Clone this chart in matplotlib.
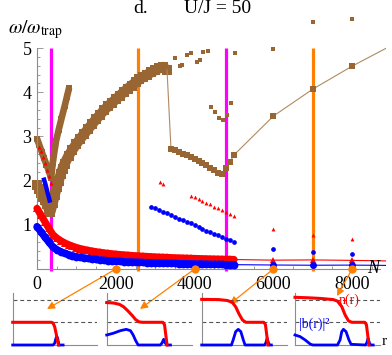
import numpy as np
import matplotlib
matplotlib.use("Agg")
import matplotlib.pyplot as plt
from matplotlib.ticker import FixedLocator

plt.rcParams['font.family'] = ['Liberation Serif', 'DejaVu Serif']
plt.rcParams['mathtext.fontset'] = 'stix'

RED = '#ff0000'
BLUE = '#0000ff'
BROWN = '#996633'
ORANGE = '#ff8000'
MAGENTA = '#ff00ff'
GRAY = '#8c8c8c'

# ---- main panel data (N, omega/omega_trap) ----
N_dense = list(range(0, 5001, 100))
blue_low = [0.96, 0.84, 0.72, 0.61, 0.50, 0.44, 0.395, 0.355, 0.325, 0.30,
            0.28, 0.265, 0.25, 0.238, 0.226, 0.215, 0.205, 0.197, 0.19, 0.183,
            0.177, 0.172, 0.167, 0.162, 0.158, 0.154, 0.15, 0.147, 0.144, 0.141,
            0.138, 0.135, 0.132, 0.13, 0.128, 0.125, 0.123, 0.121, 0.119, 0.117,
            0.115, 0.113, 0.111, 0.109, 0.107, 0.105, 0.104, 0.102, 0.10, 0.099,
            0.098]
red_low = [1.37, 1.22, 1.07, 0.92, 0.78, 0.70, 0.64, 0.59, 0.55, 0.515,
           0.485, 0.46, 0.44, 0.42, 0.405, 0.39, 0.376, 0.364, 0.353, 0.343,
           0.334, 0.326, 0.318, 0.311, 0.304, 0.298, 0.292, 0.287, 0.282, 0.277,
           0.272, 0.268, 0.264, 0.26, 0.256, 0.252, 0.249, 0.246, 0.243, 0.24,
           0.237, 0.234, 0.231, 0.229, 0.226, 0.224, 0.222, 0.22, 0.218, 0.216,
           0.214]

# sparse large-N points
N_far = [6000, 7000, 8000]
N_tail = [5000, 6000, 7000, 8000, 9000]
red_tail = [0.214, 0.20, 0.205, 0.195, 0.18]
blue_tail = [0.098, 0.09, 0.085, 0.088, 0.08]
red_far_hi = [0.90, 0.77, 0.68]
blue_far_hi = [0.46, 0.39, 0.34]

# secondary branches
blue2a_N = [180, 210, 240, 270, 300, 320]
blue2a = [2.02, 1.93, 1.83, 1.72, 1.62, 1.55]
red2a_N = [60, 100, 150, 200, 250, 300, 360]
red2a = [2.77, 2.67, 2.53, 2.40, 2.25, 2.11, 1.94]
blue2b_N = list(range(2900, 5001, 100))
blue2b = [1.41, 1.38, 1.34, 1.30, 1.26, 1.22, 1.18, 1.14, 1.10, 1.06, 1.03,
          0.99, 0.95, 0.91, 0.87, 0.83, 0.80, 0.76, 0.72, 0.68, 0.65, 0.62]
red2b_N = [3120, 3200, 3900, 4000, 4100, 4200, 4300, 4400, 4500, 4600, 4700, 4800, 4900, 5000]
red2b = [1.97, 1.92, 1.66, 1.62, 1.58, 1.54, 1.50, 1.46, 1.41, 1.37, 1.33, 1.28, 1.24, 1.20]

# brown branches
brA_N = [0, 60, 120, 180, 240, 300, 357, 400, 440, 484, 550, 620, 700, 760, 815]
brA = [2.95, 2.80, 2.65, 2.50, 2.36, 2.22, 2.06, 2.40, 2.65, 2.90, 3.15, 3.40, 3.68, 3.90, 4.10]
brB_N = [0, 50, 100, 150, 200, 250, 300, 340, 400, 450, 500, 550, 600, 650, 700,
         800, 900, 1000, 1100, 1200, 1300, 1400, 1500, 1600, 1700, 1800, 1900,
         2000, 2100, 2200, 2300, 2400, 2500, 2600, 2700, 2800, 2900, 3000, 3100,
         3200, 3300]
brB = [1.90, 1.82, 1.73, 1.64, 1.55, 1.46, 1.36, 1.30, 1.50, 1.68, 1.85, 2.00,
       2.14, 2.27, 2.38, 2.56, 2.70, 2.83, 2.95, 3.06, 3.17, 3.28, 3.39, 3.49,
       3.59, 3.68, 3.76, 3.84, 3.92, 4.00, 4.08, 4.15, 4.22, 4.29, 4.35, 4.40,
       4.45, 4.50, 4.54, 4.57, 4.50]
brD_N = [3400, 3500, 3600, 3700, 3800, 3900, 4000, 4100, 4200, 4300, 4400,
         4500, 4600, 4700, 4800, 4900, 5000]
brD = [2.72, 2.69, 2.65, 2.61, 2.57, 2.53, 2.49, 2.45, 2.40, 2.35, 2.29,
       2.23, 2.18, 2.14, 2.28, 2.43, 2.58]
brE_N = [6000, 7000, 8000, 9000]
brE = [3.46, 4.07, 4.59, 5.06]
brS_N = [3500, 3620, 3670, 3800, 3920, 4050, 4130, 4220, 4330, 5030, 6000, 7000, 8000,
         4415, 4520, 4620, 4730, 4830, 4925]
brS = [4.77, 4.60, 4.62, 4.84, 4.88, 4.69, 4.73, 4.92, 4.94, 4.88, 4.97, 5.59, 5.65,
       3.67, 3.55, 3.42, 3.36, 3.48, 3.76]

magenta_N = [360, 4790]
orange_N = [2570, 7000]
snap_N = [2000, 4000, 6000, 8000]

# ---- inset density profiles (r scaled 0..1) ----
n_r = [[0, 0.46, 0.48, 0.50, 0.52, 0.535, 0.545],
       [0, 0.08, 0.15, 0.20, 0.25, 0.30, 0.34, 0.38, 0.42, 0.66, 0.68, 0.695, 0.71],
       [0, 0.20, 0.30, 0.36, 0.40, 0.44, 0.48, 0.52, 0.73, 0.75, 0.765, 0.78],
       [0, 0.15, 0.30, 0.45, 0.50, 0.55, 0.59, 0.63, 0.67, 0.82, 0.84, 0.855, 0.87]]
n_val = [[1, 1, 0.97, 0.8, 0.45, 0.15, 0],
         [1.87, 1.85, 1.79, 1.68, 1.5, 1.3, 1.12, 1.02, 1.0, 1.0, 0.9, 0.45, 0],
         [2.01, 2.0, 1.96, 1.88, 1.68, 1.36, 1.1, 1.0, 1.0, 0.9, 0.45, 0],
         [2.1, 2.08, 2.05, 2.0, 1.93, 1.69, 1.32, 1.06, 1.0, 1.0, 0.9, 0.45, 0]]
b_r = [[0, 0.48, 0.50, 0.515, 0.525, 0.535, 0.55, 0.60],
       [0, 0.08, 0.16, 0.23, 0.28, 0.31, 0.34, 0.37, 0.63, 0.65, 0.67, 0.69, 0.71, 0.75],
       [0, 0.35, 0.37, 0.40, 0.43, 0.46, 0.49, 0.51, 0.74, 0.755, 0.77, 0.785, 0.80, 0.82],
       [0, 0.06, 0.12, 0.18, 0.21, 0.50, 0.53, 0.55, 0.57, 0.60, 0.635, 0.66,
        0.83, 0.845, 0.86, 0.875, 0.89, 0.92]]
b_val = [[0, 0, 0.08, 0.3, 0.37, 0.3, 0, 0],
         [0.44, 0.52, 0.63, 0.69, 0.63, 0.45, 0.2, 0, 0, 0.08, 0.25, 0.08, 0, 0],
         [0, 0, 0.22, 0.59, 0.69, 0.59, 0.22, 0, 0, 0.1, 0.29, 0.1, 0, 0],
         [0.44, 0.37, 0.22, 0.04, 0, 0, 0.22, 0.59, 0.69, 0.59, 0.22, 0.03,
          0, 0.1, 0.29, 0.1, 0, 0]]

W, H = 392, 355
fig = plt.figure(figsize=(W / 100, H / 100), dpi=100)


def box(x0, y0, x1, y1):
    # pixel box (top-left origin) -> figure rect
    return [x0 / W, 1 - y1 / H, (x1 - x0) / W, (y1 - y0) / H]


ax = fig.add_axes(box(30, 10, 386, 275))
ax.set_xlim(-178, 8858)
ax.set_ylim(-0.136, 5.86)
ax.patch.set_alpha(0)

for s in ['top', 'right']:
    ax.spines[s].set_visible(False)
ax.spines['left'].set_position(('data', 0))
ax.spines['bottom'].set_position(('data', 0))
ax.spines['left'].set_bounds(0, 5)
ax.spines['bottom'].set_bounds(0, 8700)
for s in ['left', 'bottom']:
    ax.spines[s].set_color(GRAY)
    ax.spines[s].set_linewidth(0.8)

ax.set_xticks([0, 2000, 4000, 6000, 8000])
ax.set_xticklabels(['0', '2000', '4000', '6000', '8000'])
ax.set_yticks([1, 2, 3, 4, 5])
ax.set_yticklabels(['1', '2', '3', '4', '5'])
ax.xaxis.set_minor_locator(FixedLocator(np.arange(500, 8600, 500)))
ax.yaxis.set_minor_locator(FixedLocator(np.arange(0.2, 5.0, 0.2)))
ax.tick_params(which='both', direction='in', color=GRAY, width=0.6, labelsize=13)
ax.tick_params(which='major', length=4.5)
ax.tick_params(which='minor', length=2.5)
ax.tick_params(axis='y', pad=4)
ax.tick_params(axis='x', pad=5)

# vertical marker lines
ax.vlines(magenta_N, -0.05, 5.0, color=MAGENTA, lw=2.3, zorder=1)
ax.vlines(orange_N, -0.05, 5.0, color=ORANGE, lw=2.3, zorder=1)

# brown branches
ax.plot(brB_N, brB, color=BROWN, lw=7.5, solid_capstyle='butt', zorder=2)
ax.plot(brB_N, brB, 's', color=BROWN, ms=7.5, mew=0, zorder=2)
ax.plot(brA_N, brA, color=BROWN, lw=4.8, solid_capstyle='butt', zorder=2)
ax.plot(brA_N, brA, 's', color=BROWN, ms=4.8, mew=0, zorder=2)
conn_N = [brB_N[-1]] + brD_N + brE_N
conn = [brB[-1]] + brD + brE
ax.plot(conn_N, conn, color='#b08a60', lw=0.8, zorder=2)
ax.plot(brD_N, brD, 's', color=BROWN, ms=4.2, mew=0, zorder=3)
ax.plot(brE_N, brE, 's', color=BROWN, ms=5, mew=0, zorder=3)
ax.plot(brS_N, brS, 's', color=BROWN, ms=3.3, mew=0, zorder=3)

# lowest modes
ax.plot(N_tail, red_tail, color=RED, lw=0.8, zorder=3)
ax.plot(N_tail, blue_tail, color=BLUE, lw=0.8, zorder=3)
ax.plot(N_dense, red_low, color=RED, lw=5.2, solid_capstyle='round', zorder=3)
ax.plot(N_dense, red_low, '^', color=RED, ms=6, mew=0, zorder=3)
ax.plot(N_dense, blue_low, color=BLUE, lw=5.2, solid_capstyle='round', zorder=4)
ax.plot(N_dense, blue_low, 'o', color=BLUE, ms=5.6, mew=0, zorder=4)
ax.plot(N_far, red_tail[1:4], '^', color=RED, ms=5, mew=0, zorder=4)
ax.plot(N_far, blue_tail[1:4], 'o', color=BLUE, ms=5, mew=0, zorder=4)

# higher modes
ax.plot(blue2a_N, blue2a, color=BLUE, lw=3.2, zorder=3)
ax.plot(red2a_N, red2a, '^', color=RED, ms=3, mew=0, zorder=3)
ax.plot(blue2b_N, blue2b, 'o', color=BLUE, ms=3.4, mew=0, zorder=3)
ax.plot(red2b_N, red2b, '^', color=RED, ms=2.8, mew=0, zorder=3)
ax.plot(N_far, red_far_hi, '^', color=RED, ms=2.8, mew=0, zorder=3)
ax.plot(N_far, blue_far_hi, 'o', color=BLUE, ms=3.4, mew=0, zorder=3)

# snapshot dots
ax.plot(snap_N, [0] * len(snap_N), 'o', color=ORANGE, ms=6, mew=0, zorder=6, clip_on=False)

# titles and labels
fig.text(141 / W, 1 - 13 / H, 'd.', ha='center', va='baseline', fontsize=14)
fig.text(218 / W, 1 - 13 / H, 'U/J = 50', ha='center', va='baseline', fontsize=14)
fig.text(8 / W, 1 - 33 / H, r'$\omega/\omega_{\mathrm{trap}}$', ha='left', va='baseline', fontsize=14)
fig.text(367 / W, 1 - 273 / H, 'N', ha='left', va='baseline', fontsize=13, style='italic')

# insets
inset_boxes = [(12.7, 293, 96.7, 345), (106.7, 293, 191.7, 345),
               (201.7, 293, 286.7, 345), (295, 293, 380, 345)]
arrow_tips = [(47, 309), (140, 309), (230, 304), (337, 296)]
for k, bx in enumerate(inset_boxes):
    ia = fig.add_axes(box(*bx))
    ia.set_xlim(0, 1)
    ia.set_ylim(0, 2.29)
    ia.patch.set_alpha(0)
    ia.set_xticks([])
    ia.set_yticks([])
    for s in ['top', 'right']:
        ia.spines[s].set_visible(False)
    for s in ['left', 'bottom']:
        ia.spines[s].set_color(GRAY)
        ia.spines[s].set_linewidth(0.8)
    for lev in (1, 2):
        ia.plot([0, 1], [lev, lev], color='#555555', lw=0.8, dashes=(3.5, 2.6), zorder=1)
    ia.plot(b_r[k], b_val[k], color=BLUE, lw=2.0, clip_on=False, zorder=3)
    ia.plot(n_r[k], n_val[k], color=RED, lw=2.2, clip_on=False, zorder=4)
    tx, ty = arrow_tips[k]
    ax.annotate('', xy=(tx, H - ty), xycoords='figure pixels',
                xytext=(snap_N[k], 0), textcoords='data',
                arrowprops=dict(arrowstyle='-|>', color=ORANGE, lw=0.9,
                                mutation_scale=11, shrinkA=0, shrinkB=0),
                zorder=5)
    if k == 3:
        ia.text(0.64, 1.98, 'n(r)', color=RED, fontsize=10, ha='center', va='center', zorder=5)
        ia.text(0.22, 0.93, '|b(r)|²', color=BLUE, fontsize=10, ha='center', va='center', zorder=5)

fig.text(382 / W, 1 - 345 / H, 'r', ha='left', va='baseline', fontsize=11)

fig.savefig('out.png', dpi=100)
